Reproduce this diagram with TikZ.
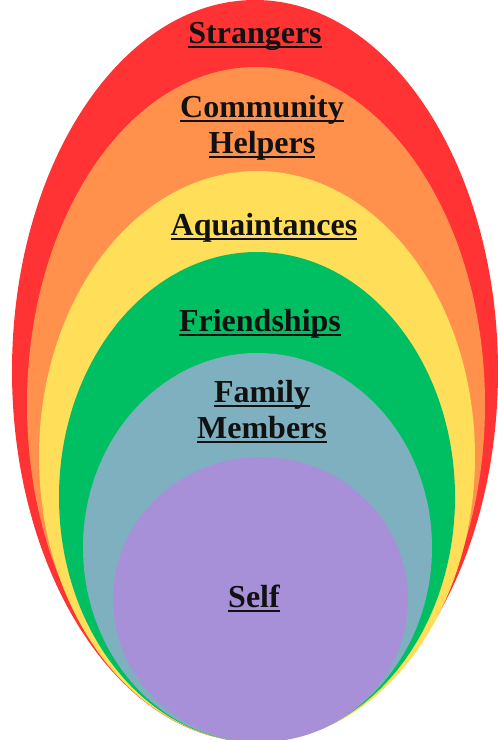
\documentclass[tikz,border=0pt]{standalone}
\usepackage{fontspec}
\setmainfont{Liberation Serif}
\definecolor{ringred}{RGB}{255,51,51}
\definecolor{ringorange}{RGB}{255,145,77}
\definecolor{ringyellow}{RGB}{255,222,89}
\definecolor{ringgreen}{RGB}{0,191,99}
\definecolor{ringblue}{RGB}{127,176,192}
\definecolor{ringpurple}{RGB}{167,144,216}
\definecolor{ink}{RGB}{17,17,17}
% underline at a fixed depth below the baseline
\newcommand\ulword[1]{\setbox0\hbox{#1}\rlap{\rule[-4.5pt]{\wd0}{1.8pt}}\box0}
\tikzset{
  ring/.style={draw=none},
  lbl/.style={text=ink, font=\bfseries\fontsize{32}{36}\selectfont, align=center, inner sep=0pt, anchor=base}
}
\begin{document}
\begin{tikzpicture}[x=1pt,y=1pt]
\useasboundingbox (0,0) rectangle (498,-740);
\begin{scope}
\clip (0,0) rectangle (498,-740);
\fill[ringred]    (255,-371)   ellipse [x radius=243,   y radius=371];
\fill[ringorange] (256,-404.5) ellipse [x radius=229,   y radius=337.5];
\fill[ringyellow] (257,-456.5) ellipse [x radius=218,   y radius=285.5];
\fill[ringgreen]  (257,-497)   ellipse [x radius=198,   y radius=245];
\fill[ringblue]   (257.5,-547.5) ellipse [x radius=174.5, y radius=194.5];
\fill[ringpurple] (260.5,-599.5) ellipse [x radius=147.5, y radius=142.5];
\end{scope}
% for two-line labels the base anchor sits on the last line
\node[lbl] (strangers) at (255,-43) {\ulword{Strangers}};
\node[lbl] (community) at (262,-153) {\ulword{Community}\\\ulword{Helpers}};
\node[lbl] (aquaint) at (264,-235) {\ulword{Aquaintances}};
\node[lbl] (friends) at (260,-331) {\ulword{Friendships}};
\node[lbl] (family) at (262,-438) {\ulword{Family}\\\ulword{Members}};
\node[lbl] (self) at (254,-607) {\ulword{Self}};
\end{tikzpicture}
\end{document}
